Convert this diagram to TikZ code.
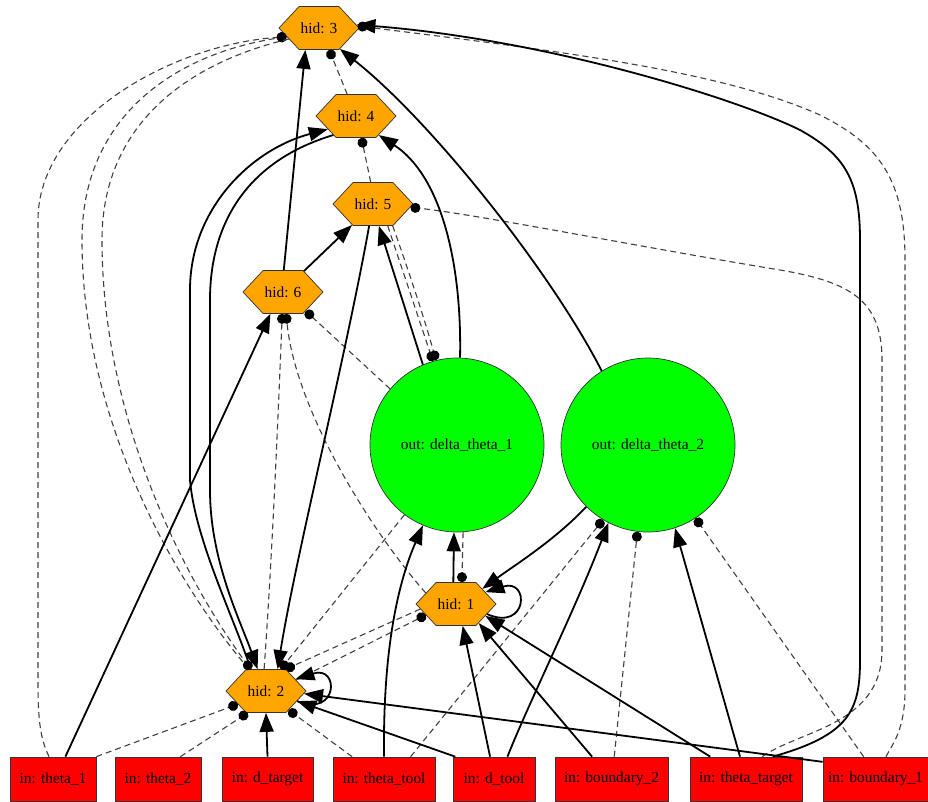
\documentclass[tikz,border=0pt]{standalone}
\usepackage{fontspec}
\setmainfont{Liberation Serif}
\usetikzlibrary{arrows.meta,shapes.symbols}
\definecolor{hidfill}{HTML}{FFA500}
\definecolor{outfill}{HTML}{00FF00}
\definecolor{infill}{HTML}{FF0000}
\begin{document}
\begin{tikzpicture}[x=1pt,y=-1pt,
  lbl/.style={font=\fontsize{15.4}{18}\selectfont},
  hexnode/.style={lbl, shape=signal, signal to=west and east, signal pointer angle=94,
    draw=black!80, line width=0.7pt, fill=hidfill, minimum width=80pt, minimum height=43pt, inner sep=0pt},
  outnode/.style={lbl, circle, draw=black!80, line width=0.7pt, fill=outfill, minimum size=174pt, inner sep=0pt},
  innode/.style={lbl, rectangle, draw=black!80, line width=0.7pt, fill=infill, minimum height=44pt, inner sep=0pt},
  linkon/.style={line width=1.8pt, -{Triangle[length=19pt,width=14pt]}},
  linkoff/.style={line width=1.1pt, black!75, dash pattern=on 6pt off 4pt, -{Circle[length=10pt,black]}},
]
\useasboundingbox (0,0) rectangle (928,801);

% hidden nodes
\node[hexnode] (hid3) at (319,28)  {hid: 3};
\node[hexnode] (hid4) at (356,116) {hid: 4};
\node[hexnode] (hid5) at (373,204) {hid: 5};
\node[hexnode] (hid6) at (283,292) {hid: 6};
\node[hexnode] (hid1) at (456,604) {hid: 1};
\node[hexnode] (hid2) at (266,691) {hid: 2};

% output nodes
\node[outnode] (out1) at (457,445) {out: delta\_theta\_1};
\node[outnode] (out2) at (648,445) {out: delta\_theta\_2};

% input nodes
\node[innode, minimum width=86pt]  (theta1)      at (53,779)    {in: theta\_1};
\node[innode, minimum width=86pt]  (theta2)      at (158,779)   {in: theta\_2};
\node[innode, minimum width=91pt]  (dtarget)     at (267.5,779) {in: d\_target};
\node[innode, minimum width=102pt] (thetatool)   at (384,779)   {in: theta\_tool};
\node[innode, minimum width=82pt]  (dtool)       at (494,779)   {in: d\_tool};
\node[innode, minimum width=113pt] (boundary2)   at (611.5,779) {in: boundary\_2};
\node[innode, minimum width=112pt] (thetatarget) at (746,779)   {in: theta\_target};
\node[innode, minimum width=105pt] (boundary1)   at (875.5,779) {in: boundary\_1};

% disabled connections
\draw[linkoff] (theta1.100) .. controls (40,738) and (38,720) .. (38,680) -- (38,220)
  .. controls (38,120) and (170,45) .. (hid3.-165);
\draw[linkoff] (hid2.128) .. controls (175,583) and (82,420) .. (82,240)
  .. controls (82,120) and (170,55) .. (hid3.-165);
\draw[linkoff] (hid3.-160) .. controls (180,65) and (102,130) .. (102,240)
  .. controls (102,420) and (185,580) .. (hid2.125);
\draw[linkoff] (theta1.north east) -- (hid2.-155);
\draw[linkoff] (theta2.45) -- (hid2.-130);
\draw[linkoff] (hid2.95) .. controls (272,560) and (278,420) .. (hid6.-92);
\draw[linkoff] (hid1.160) .. controls (372,532) and (296,412) .. (hid6.-82);
\draw[linkoff] (out1.140) -- (hid6.-40);
\draw[linkoff] (hid5.-56) -- (out1.106);
\draw[linkoff] (hid5.-48) .. controls (405,260) and (425,320) .. (out1.104);
\draw[linkoff] (hid5.96) -- (hid4.-76);
\draw[linkoff] (hid4.112) -- (hid3.-65);
\draw[linkoff] (out1.-86) -- (hid1.75);
\draw[linkoff] (hid2.20) -- (hid1.-160);
\draw[linkoff] (hid1.-172) -- (hid2.48);
\draw[linkoff] (out1.-127) -- (hid2.56);
\draw[linkoff] (thetatool.145) -- (hid2.-40);
\draw[linkoff] (thetatool.40) -- (out2.-121);
\draw[linkoff] (boundary2.83) -- (out2.-97);
\draw[linkoff] (boundary1.118) -- (out2.-57);
\draw[linkoff] (boundary1.65) .. controls (892,745) and (905,730) .. (905,690) -- (905,260)
  .. controls (905,180) and (880,145) .. (820,115) .. controls (720,70) and (550,50) .. (hid3.3);
\draw[linkoff] (thetatarget.54) .. controls (800,730) and (882,725) .. (882,650) -- (882,360)
  .. controls (882,300) and (850,282) .. (780,270) .. controls (640,247) and (480,215) .. (hid5.-5);

% enabled connections
\draw[linkon] (hid6.88) -- (hid3.-122);
\draw[linkon] (hid6.45) -- (hid5.-135);
\draw[linkon] (out1.113) -- (hid5.-75);
\draw[linkon] (out1.88) .. controls (462,260) and (440,175) .. (hid4.-40);
\draw[linkon] (out2.122) .. controls (550,270) and (430,120) .. (hid3.-45);
\draw[linkon] (thetatarget.40) .. controls (850,735) and (860,710) .. (860,660) -- (860,240)
  .. controls (860,180) and (845,155) .. (800,130) .. controls (740,100) and (550,40) .. (hid3.5);
\draw[linkon] (hid5.-100) .. controls (345,360) and (295,560) .. (hid2.62);
\draw[linkon] (hid4.-140) .. controls (250,160) and (210,220) .. (210,300) -- (210,490)
  .. controls (210,560) and (240,620) .. (hid2.111);
\draw[linkon] (hid2.125) .. controls (235,620) and (195,540) .. (190,480) -- (190,290)
  .. controls (190,210) and (250,150) .. (hid4.-155);
\draw[linkon] (theta1.61) -- (hid6.-120);
\draw[linkon] (hid1.97) -- (out1.-92);
\draw[linkon] (thetatool.north) .. controls (383,660) and (395,590) .. (out1.-113);
\draw[linkon] (out2.-135) .. controls (555,540) and (515,565) .. (hid1.30);
\draw[linkon] (hid1.-18) .. controls (528,632) and (530,578) .. (hid1.22);
\draw[linkon] (dtool.59) .. controls (530,700) and (575,610) .. (out2.-117);
\draw[linkon] (thetatarget.105) -- (out2.-72);
\draw[linkon] (dtool.100) -- (hid1.-73);
\draw[linkon] (boundary2.131) -- (hid1.-40);
\draw[linkon] (thetatarget.148) -- (hid1.-22);
\draw[linkon] (dtarget.north) -- (hid2.south);
\draw[linkon] (hid2.-18) .. controls (338,718) and (340,665) .. (hid2.22);
\draw[linkon] (dtool.150) -- (hid2.-18);
\draw[linkon] (boundary1.162) -- (hid2.-4);
\end{tikzpicture}
\end{document}
